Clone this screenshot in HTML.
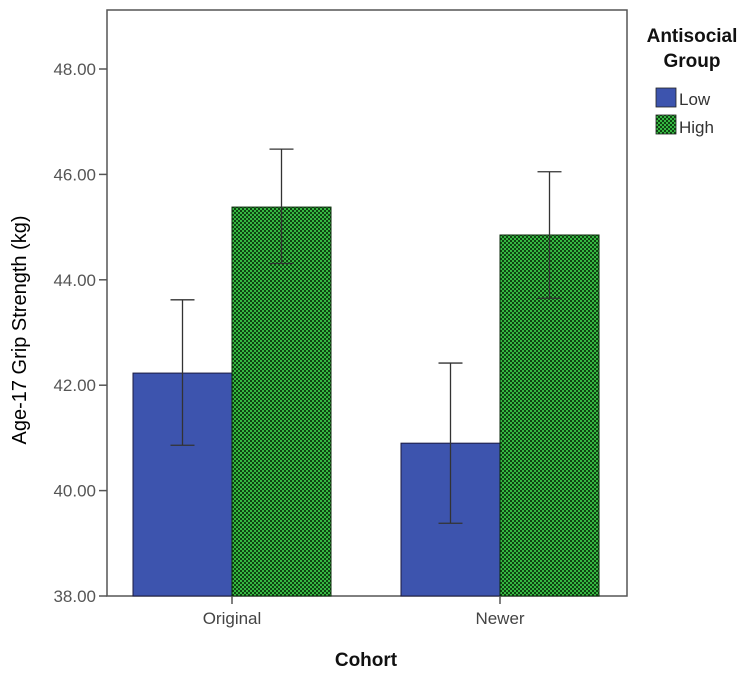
<!DOCTYPE html>
<html><head><meta charset="utf-8"><style>
body{margin:0;background:#fff}
svg{display:block;font-family:"Liberation Sans",Arial,sans-serif}
</style></head><body>
<svg id="chart" width="755" height="678" viewBox="0 0 755 678">
<defs>
<pattern id="chk" width="4" height="4" patternUnits="userSpaceOnUse">
<rect width="4" height="4" fill="#0f4412"/>
<rect x="0" y="0" width="2" height="2" fill="#36b842"/>
<rect x="2" y="2" width="2" height="2" fill="#36b842"/>
</pattern>
</defs>
<rect x="107" y="10" width="520" height="586" fill="#fff" stroke="#555" stroke-width="1.5"/>
<g id="yaxis"></g>
<g id="bars"></g>
<g id="xaxis"></g>
<text x="0" y="0" transform="translate(26,330) rotate(-90)" text-anchor="middle" font-size="20" fill="#000">Age-17 Grip Strength (kg)</text>
<text x="366" y="666" text-anchor="middle" font-size="19" font-weight="bold" fill="#111">Cohort</text>
<g>
<text x="692" y="42" text-anchor="middle" font-size="19" font-weight="bold" fill="#111">Antisocial</text>
<text x="692" y="67" text-anchor="middle" font-size="19" font-weight="bold" fill="#111">Group</text>
<g>
<rect x="656" y="88" width="20" height="19" fill="#3d54ae" stroke="#222" stroke-width="0.8"/>
<text x="679" y="105" font-size="17" fill="#333">Low</text></g>
<g>
<rect x="656" y="115" width="20" height="19" fill="url(#chk)" stroke="#222" stroke-width="0.8"/>
<text x="679" y="133" font-size="17" fill="#333">High</text></g>
</g>
</svg>
<script>
const categories = ["Original", "Newer"];
const lowMeans = [42.23, 40.9];
const lowUpper = [43.62, 42.42];
const lowLower = [40.86, 39.38];
const highMeans = [45.38, 44.85];
const highUpper = [46.48, 46.05];
const highLower = [44.31, 43.65];
const yTicks = [38, 40, 42, 44, 46, 48];

const NS = "http://www.w3.org/2000/svg";
const y = v => 596 - (v - 38) * 52.7;
const xCenter = i => 232 + i * 268;
const barW = 99;
function mk(tag, attrs, parent){const e=document.createElementNS(NS,tag);for(const k in attrs)e.setAttribute(k,attrs[k]);parent.appendChild(e);return e;}
const ya = document.getElementById('yaxis');
yTicks.forEach(t=>{
  const l = mk('line',{x1:99,x2:107,y1:y(t),y2:y(t),stroke:'#555','stroke-width':1.5},ya);
  
  
  const tx = mk('text',{x:96,y:y(t)+6,'text-anchor':'end','font-size':17,fill:'#555'},ya);
  tx.textContent = t.toFixed(2);
  
  
});
const bg = document.getElementById('bars');
const xa = document.getElementById('xaxis');
categories.forEach((c,i)=>{
  const cx = xCenter(i);
  const b1 = mk('rect',{x:cx-barW,y:y(lowMeans[i]),width:barW,height:y(38)-y(lowMeans[i]),fill:'#3d54ae',stroke:'#1a1a40','stroke-width':1},bg);
  
  
  const b2 = mk('rect',{x:cx,y:y(highMeans[i]),width:barW,height:y(38)-y(highMeans[i]),fill:'url(#chk)',stroke:'#0a2a0a','stroke-width':1},bg);
  
  
  [[cx-barW/2,lowUpper[i],lowLower[i],'low'],[cx+barW/2,highUpper[i],highLower[i],'high']].forEach(([ex,u,lo,g])=>{
    const eg = mk('g',{stroke:'#333','stroke-width':1.3},bg);
    
    
    mk('line',{x1:ex,x2:ex,y1:y(u),y2:y(lo)},eg);
    mk('line',{x1:ex-12,x2:ex+12,y1:y(u),y2:y(u)},eg);
    mk('line',{x1:ex-12,x2:ex+12,y1:y(lo),y2:y(lo)},eg);
  });
  const tk = mk('line',{x1:cx,x2:cx,y1:596,y2:604,stroke:'#555','stroke-width':1.5},xa);
  
  
  const tl = mk('text',{x:cx,y:624,'text-anchor':'middle','font-size':17,fill:'#444'},xa);
  tl.textContent = c;
  
  
});
</script>
</body></html>
